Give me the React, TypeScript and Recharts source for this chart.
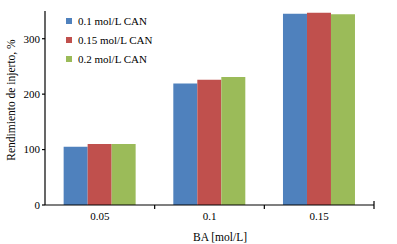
import React from "react";
import { BarChart, Bar, XAxis, YAxis, Legend } from "recharts";

const categories = ["0.05", "0.1", "0.15"];
const seriesNames = ["0.1 mol/L CAN", "0.15 mol/L CAN", "0.2 mol/L CAN"];
const can01 = [105, 219, 345];
const can015 = [110, 226, 347];
const can02 = [110, 231, 344];
const yTicks = [0, 100, 200, 300];
const colors = ["#4F81BD", "#C0504D", "#9BBB59"];

const data = categories.map((c, i) => ({
  cat: c,
  a: can01[i],
  b: can015[i],
  c: can02[i],
}));

const FONT = "Liberation Serif, Times New Roman, DejaVu Serif, serif";

const LegendContent = () => (
  <div style={{ fontFamily: FONT, fontSize: 11, color: "#000", textAlign: "left" }}>
    {seriesNames.map((n, i) => (
      <div key={n} style={{ display: "flex", alignItems: "center", height: 18.8 }}>
        <span style={{ width: 6, height: 6, background: colors[i], display: "inline-block", marginRight: 6 }} />
        <span>{n}</span>
      </div>
    ))}
  </div>
);

const CatTick = (props: any) => {
  const { x, y, payload, width, index } = props;
  const band = width / categories.length;
  const edge = x + band / 2;
  const axisY = y - 6;
  const isLast = index === categories.length - 1;
  return (
    <g>
      <line x1={edge} y1={isLast ? axisY - 4 : axisY} x2={edge} y2={axisY + 4} stroke="#000" strokeWidth={1.2} />
      <text x={x} y={y + 9} textAnchor="middle" fontFamily={FONT} fontSize={11} fill="#000">
        {payload.value}
      </text>
    </g>
  );
};

export default function App() {
  return (
    <div style={{ position: "absolute", left: 0, top: 0, width: 397, height: 244, background: "#fff" }}>
      <BarChart
        width={397}
        height={244}
        data={data}
        margin={{ top: 11, right: 23, left: 0, bottom: 0 }}
        barCategoryGap="17%"
        barGap={0}
      >
        <XAxis
          dataKey="cat"
          height={39}
          axisLine={{ stroke: "#000", strokeWidth: 1.2 }}
          tickLine={false}
          tickSize={6}
          tick={<CatTick />}
          tickMargin={0}
          label={{
            content: () => (
              <text x={220} y={241} textAnchor="middle" fontFamily={FONT} fontSize={11.5} fill="#000">
                BA [mol/L]
              </text>
            ),
          }}
        />
        <YAxis
          width={45}
          domain={[0, 350]}
          ticks={yTicks}
          axisLine={{ stroke: "#000", strokeWidth: 1.2 }}
          tickLine={{ stroke: "#000", strokeWidth: 1.2 }}
          tickSize={3}
          tick={{ fontFamily: FONT, fontSize: 11, fill: "#000" }}
          label={{
            content: () => (
              <text
                transform="translate(15,100) rotate(-90)"
                textAnchor="middle"
                fontFamily={FONT}
                fontSize={11.5}
                fill="#000"
              >
                Rendimiento de injerto, %
              </text>
            ),
          }}
        />
        <Legend
          layout="horizontal"
          align="center"
          verticalAlign="middle"
          content={<LegendContent />}
          wrapperStyle={{ left: 66, top: 12, width: 120, height: 57 }}
        />
        <Bar dataKey="a" name={seriesNames[0]} fill={colors[0]} isAnimationActive={false} />
        <Bar dataKey="b" name={seriesNames[1]} fill={colors[1]} isAnimationActive={false} />
        <Bar dataKey="c" name={seriesNames[2]} fill={colors[2]} isAnimationActive={false} />
      </BarChart>
    </div>
  );
}
